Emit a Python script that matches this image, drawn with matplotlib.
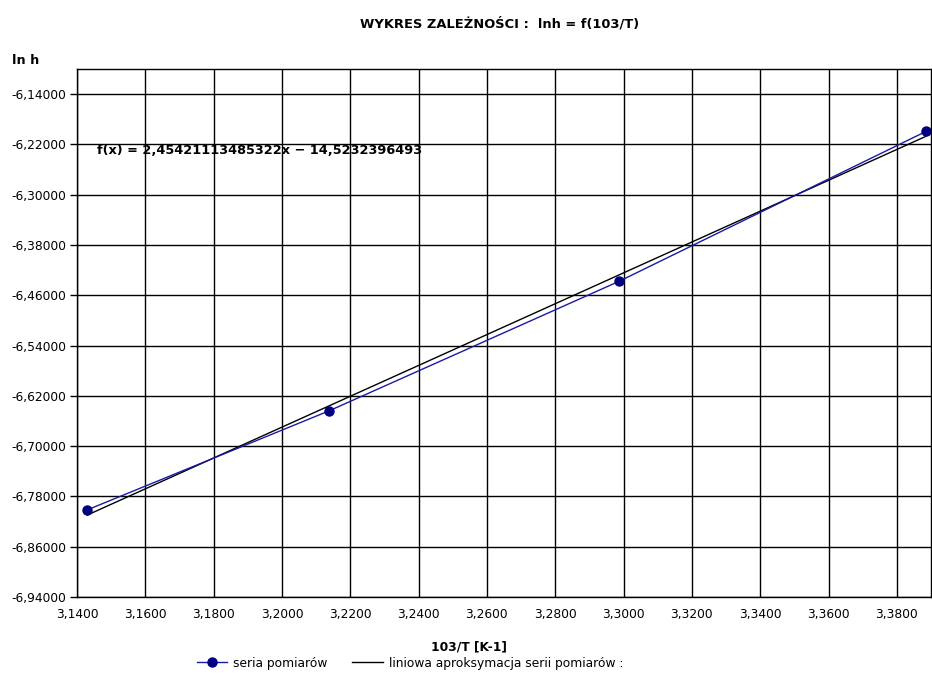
import matplotlib
matplotlib.use("Agg")
import matplotlib.pyplot as plt
import numpy as np
from matplotlib.ticker import FuncFormatter

# measured points (103/T, ln h)
x_pts = [3.1430, 3.2139, 3.2988, 3.3885]
y_pts = [-6.8014, -6.6436, -6.4375, -6.1994]

# linear fit as printed on the chart
slope     = 2.45421113485322
intercept = -14.5232396493

x_ticks = np.arange(3.14, 3.3801, 0.02)
y_ticks = np.arange(-6.94, -6.1399, 0.08)

navy = "#000080"

fig = plt.figure(figsize=(9.32, 6.87), dpi=100)
ax = fig.add_axes([77/932, 1 - 597/687, (931 - 77)/932, (597 - 69)/687])

ax.set_xlim(3.14, 3.39)
ax.set_ylim(-6.94, -6.10)
ax.set_xticks(x_ticks)
ax.set_yticks(y_ticks)
ax.grid(True, color="black", linewidth=1)
ax.set_axisbelow(True)
for s in ax.spines.values():
    s.set_color("black")
    s.set_linewidth(1)

ax.xaxis.set_major_formatter(FuncFormatter(lambda v, p: f"{v:.4f}".replace(".", ",")))
ax.yaxis.set_major_formatter(FuncFormatter(lambda v, p: f"{v:.5f}".replace(".", ",")))
ax.tick_params(axis="x", length=0, pad=8, labelsize=8.8)
ax.tick_params(axis="y", length=5, width=1, pad=3, labelsize=8.8)

# trend line
xf = np.array([x_pts[0], x_pts[-1]])
ax.plot(xf, slope * xf + intercept, color="black", linewidth=1,
        label="liniowa aproksymacja serii pomiarów :")
ax.plot(x_pts, y_pts, color="#1a1aa6", linewidth=1, marker="o", markersize=6.5,
        markerfacecolor=navy, markeredgecolor=navy, label="seria pomiarów")

fig.text(97/932, 1 - 150/687, "f(x) = 2,45421113485322x − 14,5232396493",
         fontsize=9.3, fontweight="bold", va="center", ha="left")

fig.text(500/932, 1 - 24/687, "WYKRES ZALEŻNOŚCI :  lnh = f(103/T)",
         fontsize=9.4, fontweight="bold", ha="center", va="center")
fig.text(12/932, 1 - 60/687, "ln h", fontsize=9.2, fontweight="bold",
         ha="left", va="center")
fig.text(469/932, 1 - 647/687, "103/T [K-1]", fontsize=8.8, fontweight="bold",
         ha="center", va="center")

h, l = ax.get_legend_handles_labels()
fig.legend(h[::-1], l[::-1], loc="center", bbox_to_anchor=(410/932, 1 - 663/687),
           ncol=2, frameon=False, fontsize=8.8, handlelength=2.5,
           columnspacing=2.0, handletextpad=0.5)

fig.savefig("out.png", dpi=100)
